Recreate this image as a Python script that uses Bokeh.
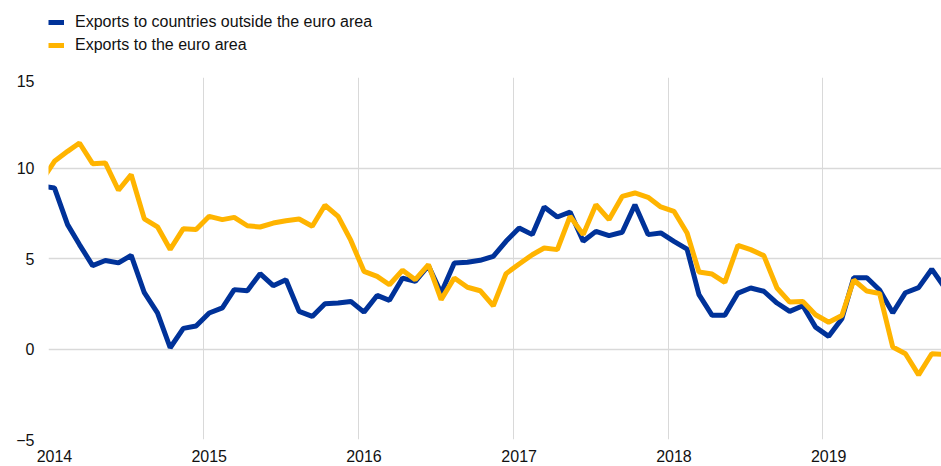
import pandas as pd
from bokeh.plotting import figure
from bokeh.layouts import column
from bokeh.models import (ColumnDataSource, FixedTicker, DatetimeTickFormatter,
                          Legend, LegendItem, Range1d)
from bokeh.embed import file_html
from bokeh.resources import INLINE

# Monthly data, Dec 2013 .. Oct 2019 (plotted at mid-month)
months = pd.date_range("2013-12-01", "2019-10-01", freq="MS")

outside_euro = [
    9.0,
    8.9, 6.87, 5.77, 4.61, 4.89, 4.76, 5.17, 3.11, 2.00, 0.07, 1.14, 1.27,
    1.99, 2.27, 3.28, 3.22, 4.16, 3.50, 3.83, 2.08, 1.80, 2.50, 2.54, 2.63,
    2.04, 2.96, 2.69, 3.92, 3.74, 4.60, 3.09, 4.75, 4.79, 4.90, 5.12, 5.95,
    6.69, 6.32, 7.85, 7.29, 7.57, 5.95, 6.50, 6.26, 6.45, 7.97, 6.32, 6.41,
    5.95, 5.52, 3.00, 1.86, 1.86, 3.09, 3.37, 3.19, 2.54, 2.08, 2.39, 1.21,
    0.70, 1.67, 3.94, 3.94, 3.26, 2.00, 3.11, 3.39, 4.41, 3.40,
]

to_euro = [
    9.25,
    10.37, 10.92, 11.38, 10.24, 10.28, 8.77, 9.63, 7.19, 6.75, 5.50, 6.65, 6.60,
    7.33, 7.15, 7.27, 6.81, 6.74, 6.96, 7.09, 7.18, 6.78, 7.94, 7.33, 6.00,
    4.29, 4.01, 3.55, 4.35, 3.83, 4.66, 2.73, 3.92, 3.41, 3.22, 2.39, 4.16,
    4.70, 5.21, 5.58, 5.49, 7.33, 6.32, 7.97, 7.15, 8.43, 8.62, 8.38, 7.85,
    7.61, 6.41, 4.25, 4.14, 3.68, 5.73, 5.49, 5.16, 3.37, 2.59, 2.63, 1.89,
    1.48, 1.85, 3.81, 3.20, 3.07, 0.11, -0.26, -1.43, -0.26, -0.30,
]

labels = ["Exports to countries outside the euro area", "Exports to the euro area"]
years = [2014, 2015, 2016, 2017, 2018, 2019]
y_ticks = [-5, 0, 5, 10, 15]

BLUE = "#003299"
YELLOW = "#FFB400"
FONT = "Liberation Sans"
TEXT = "#111111"

dates = months + pd.Timedelta(days=14)
src = ColumnDataSource(dict(date=dates, outside=outside_euro, euro=to_euro))

def ms(ts):
    return ts.value / 1e6

x_start = pd.Timestamp("2014-01-01")
x_end = pd.Timestamp("2019-10-08")

# ---- main chart ----
p = figure(width=941, height=391, output_backend="svg", toolbar_location=None,
           x_axis_type="datetime",
           x_range=Range1d(ms(x_start), ms(x_end)), y_range=Range1d(-5, 15),
           min_border_left=48, min_border_right=0, min_border_top=3,
           min_border_bottom=26)
p.outline_line_color = None
p.background_fill_color = "white"

p.line("date", "outside", source=src, line_color=BLUE, line_width=5)
p.line("date", "euro", source=src, line_color=YELLOW, line_width=5)

p.xaxis.ticker = FixedTicker(ticks=[ms(pd.Timestamp(f"{y}-01-15")) for y in years])
fmt = "%Y"
p.xaxis.formatter = DatetimeTickFormatter(years=fmt, months=fmt, days=fmt, hours=fmt,
                                          hourmin=fmt, minutes=fmt, minsec=fmt,
                                          seconds=fmt, milliseconds=fmt,
                                          microseconds=fmt)
p.yaxis.ticker = FixedTicker(ticks=y_ticks)
for ax in (p.xaxis[0], p.yaxis[0]):
    ax.axis_line_color = None
    ax.major_tick_line_color = None
    ax.minor_tick_line_color = None
    ax.major_tick_out = 0
    ax.major_tick_in = 0
    ax.major_label_text_font = FONT
    ax.major_label_text_font_size = "16px"
    ax.major_label_text_color = TEXT
p.xaxis.major_label_standoff = 10
p.yaxis.major_label_standoff = 14

p.xgrid.ticker = FixedTicker(ticks=[ms(pd.Timestamp(f"{y}-01-01")) for y in years])
p.xgrid.grid_line_color = "#d9d9d9"
p.xgrid.grid_line_width = 1
p.ygrid.ticker = FixedTicker(ticks=y_ticks)
p.ygrid.grid_line_color = "#d9d9d9"
p.ygrid.grid_line_width = 1.5

# ---- legend strip (same series, drawn out of view; only the legend shows) ----
lg = figure(width=941, height=74, output_backend="svg", toolbar_location=None,
            x_axis_type="datetime",
            x_range=Range1d(ms(x_start), ms(x_end)), y_range=Range1d(1000, 1001),
            x_axis_location=None, y_axis_location=None,
            min_border_left=0, min_border_right=0, min_border_top=0,
            min_border_bottom=0)
lg.grid.visible = False
lg.outline_line_color = None
r_out = lg.line("date", "outside", source=src, line_color=BLUE, line_width=5)
r_eu = lg.line("date", "euro", source=src, line_color=YELLOW, line_width=5)

legend = Legend(items=[
    LegendItem(label=labels[0], renderers=[r_out]),
    LegendItem(label=labels[1], renderers=[r_eu]),
], location=(0, 19))
legend.border_line_color = None
legend.background_fill_alpha = 0
legend.padding = 0
legend.margin = 0
legend.spacing = 3
legend.glyph_width = 16
legend.glyph_height = 20
legend.label_height = 20
legend.label_standoff = 11
legend.label_text_font = FONT
legend.label_text_font_size = "16px"
legend.label_text_color = TEXT
lg.add_layout(legend)

layout = column(lg, p, spacing=0)
open("out.html", "w").write(file_html(layout, INLINE))
